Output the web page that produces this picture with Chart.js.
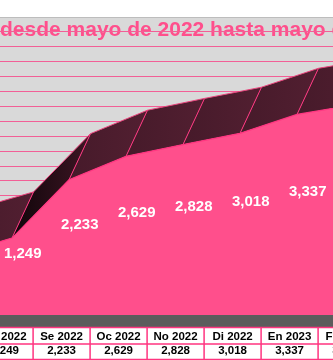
<!DOCTYPE html>
<html>
<head>
<meta charset="utf-8">
<script src="https://cdn.jsdelivr.net/npm/chart.js@4.4.1/dist/chart.umd.min.js"></script>
<style>
  html, body { margin: 0; padding: 0; background: #fff; }
  #wrap { width: 333px; height: 360px; }
</style>
</head>
<body>
<div id="wrap"><canvas id="chart" width="333" height="360"></canvas></div>
<script>
// data (Jl 2022 and Fe 2023 are only partly visible)
var months = ["Jl 2022", "Ag 2022", "Se 2022", "Oc 2022", "No 2022", "Di 2022", "En 2023", "Fe 2023"];
var values = [970, 1249, 2233, 2629, 2828, 3018, 3337, 3500];
var titleText = "desde mayo de 2022 hasta mayo de 2023";
var wallStep = 250;

var pink = "#ff4f8c";
var edgePink = "#ff3580";
var font = '"Liberation Sans", Arial, sans-serif';

function fmt(v) {
  return v.toLocaleString("en-US");
}

// 3d look: the back edge of the area is the same series on shifted axes
var step = 57;
var tableShift = -0.13;

var chart = document.getElementById("chart");

var background = {
  id: "background",
  beforeDraw: function (c) {
    var ctx = c.ctx;
    var a = c.chartArea;
    ctx.save();
    ctx.fillStyle = "#d9d9d9";
    ctx.fillRect(a.left, a.top, a.right - a.left, a.bottom - a.top);
    ctx.strokeStyle = "#bdbdbd";
    ctx.lineWidth = 1;
    ctx.beginPath();
    ctx.moveTo(a.left, a.top + 0.5);
    ctx.lineTo(a.right, a.top + 0.5);
    ctx.stroke();
    ctx.fillStyle = pink;
    ctx.font = "bold 21px " + font;
    ctx.textBaseline = "alphabetic";
    ctx.textAlign = "left";
    ctx.fillText(titleText, 0, 35.5);
    ctx.restore();
  },
};

var faces = {
  id: "faces",
  beforeDatasetDraw: function (c, args) {
    if (args.index !== 1) return;
    var f = c.getDatasetMeta(0).data;
    var b = c.getDatasetMeta(1).data;
    var ctx = c.ctx;
    var a = c.chartArea;
    ctx.save();
    ctx.beginPath();
    ctx.rect(a.left, a.top, a.right - a.left, a.bottom - a.top);
    ctx.clip();
    for (var i = 0; i < f.length - 1; i++) {
      var slope = (f[i + 1].y - f[i].y) / (f[i + 1].x - f[i].x);
      var g = ctx.createLinearGradient(f[i].x, 0, b[i + 1].x, 0);
      if (slope < -0.7) {
        g.addColorStop(0, "#10050a");
        g.addColorStop(1, "#3e1624");
      } else {
        g.addColorStop(0, "#461a2a");
        g.addColorStop(1, "#521f31");
      }
      ctx.fillStyle = g;
      ctx.beginPath();
      ctx.moveTo(f[i].x, f[i].y);
      ctx.lineTo(f[i + 1].x, f[i + 1].y);
      ctx.lineTo(b[i + 1].x, b[i + 1].y);
      ctx.lineTo(b[i].x, b[i].y);
      ctx.closePath();
      ctx.fill();
    }
    ctx.restore();
  },
  afterDatasetDraw: function (c, args) {
    if (args.index !== 1) return;
    var f = c.getDatasetMeta(0).data;
    var b = c.getDatasetMeta(1).data;
    var ctx = c.ctx;
    ctx.save();
    ctx.strokeStyle = edgePink;
    ctx.lineWidth = 1;
    for (var i = 0; i < f.length; i++) {
      ctx.beginPath();
      ctx.moveTo(f[i].x, f[i].y);
      ctx.lineTo(b[i].x, b[i].y);
      ctx.stroke();
    }
    ctx.restore();
  },
  afterDatasetsDraw: function (c) {
    var ctx = c.ctx;
    var f = c.getDatasetMeta(0).data;
    var b = c.getDatasetMeta(1).data;
    var y = c.scales.y;
    var y2 = c.scales.yBack;
    ctx.save();
    ctx.fillStyle = "#ffffff";
    ctx.font = "bold 15px " + font;
    ctx.textAlign = "center";
    ctx.textBaseline = "middle";
    values.forEach(function (v, i) {
      var px = (f[i].x + b[i].x) / 2;
      var py = (y.getPixelForValue(v / 2) + y2.getPixelForValue(v / 2)) / 2 + 2;
      ctx.fillText(fmt(v), px, py);
    });
    ctx.restore();
  },
};

var table = {
  id: "table",
  afterDraw: function (c) {
    var ctx = c.ctx;
    var x = c.scales.x;
    var a = c.chartArea;
    var top = 327.5, mid = 344, bottom = 360;
    ctx.save();
    ctx.fillStyle = "#5c5c5c";
    ctx.fillRect(0, a.bottom, c.width, top - a.bottom);
    ctx.fillStyle = "#ffffff";
    ctx.fillRect(0, top, c.width, bottom - top);
    ctx.strokeStyle = edgePink;
    ctx.lineWidth = 1.5;
    ctx.beginPath();
    ctx.moveTo(0, top); ctx.lineTo(c.width, top);
    ctx.moveTo(0, mid); ctx.lineTo(c.width, mid);
    ctx.moveTo(0, bottom - 0.5); ctx.lineTo(c.width, bottom - 0.5);
    months.forEach(function (m, i) {
      var left = x.getPixelForValue(i + tableShift - 0.5);
      ctx.moveTo(left, top); ctx.lineTo(left, bottom);
    });
    ctx.stroke();
    ctx.fillStyle = "#000000";
    ctx.font = "bold 11.5px " + font;
    ctx.textAlign = "center";
    ctx.textBaseline = "middle";
    months.forEach(function (m, i) {
      var cx = x.getPixelForValue(i + tableShift);
      ctx.fillText(m, cx, 336.5);
      ctx.fillText(fmt(values[i]), cx, 351);
    });
    ctx.restore();
  },
};

var points = values.map(function (v, i) {
  return { x: i, y: v };
});

new Chart(chart, {
  type: "line",
  data: {
    datasets: [
      {
        label: "front",
        data: points,
        xAxisID: "x",
        yAxisID: "y",
        borderColor: edgePink,
        borderWidth: 1.2,
        backgroundColor: pink,
        fill: "start",
        pointRadius: 0,
        tension: 0,
      },
      {
        label: "back",
        data: points,
        xAxisID: "xBack",
        yAxisID: "yBack",
        borderColor: "#e8447c",
        borderWidth: 1,
        fill: false,
        pointRadius: 0,
        tension: 0,
      },
    ],
  },
  options: {
    responsive: false,
    devicePixelRatio: 1,
    animation: false,
    layout: { padding: { top: 17, bottom: 45, left: 0, right: 0 } },
    plugins: {
      legend: { display: false },
      tooltip: { enabled: false },
    },
    scales: {
      x: { type: "linear", display: false, min: 45 / step, max: (45 + 333) / step },
      xBack: { type: "linear", display: false, min: 23.5 / step, max: (23.5 + 333) / step },
      y: { type: "linear", display: false, min: -50.8, max: 4983 },
      yBack: { type: "linear", display: false, min: -830.5, max: 4203.4 },
      yWall: {
        type: "linear",
        position: "left",
        min: -960,
        max: 4000,
        afterFit: function (s) {
          s.width = 0;
        },
        ticks: { display: false, stepSize: wallStep },
        border: { display: false },
        grid: {
          drawTicks: false,
          lineWidth: 1,
          color: function (ctx) {
            return ctx.tick && ctx.tick.value >= 4000 ? "rgba(0,0,0,0)" : "#f25f96";
          },
        },
      },
    },
  },
  plugins: [background, faces, table],
});
</script>
</body>
</html>
